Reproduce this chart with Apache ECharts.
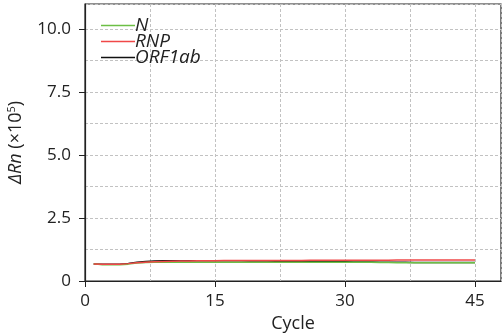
<!DOCTYPE html>
<html><head><meta charset="utf-8">
<script src="https://cdn.jsdelivr.net/npm/echarts@6/dist/echarts.min.js"></script>
<style>html,body{margin:0;padding:0;background:#fff}#c{width:502px;height:334px}</style>
</head><body><div id="c"></div>
<script>
const cycles = Array.from({length:45},(_, i)=>i+1);
const seriesNames = ['N','RNP','ORF1ab'];
const nValues = [0.68,0.65,0.65,0.65,0.67,0.71,0.73,0.74,0.74,0.74,0.74,0.74,0.74,0.74,0.74,0.74,0.74,0.74,0.74,0.74,0.74,0.74,0.74,0.74,0.74,0.74,0.74,0.74,0.74,0.74,0.74,0.74,0.74,0.73,0.73,0.72,0.72,0.72,0.72,0.72,0.72,0.72,0.72,0.72,0.72];
const rnpValues = [0.68,0.67,0.67,0.67,0.69,0.72,0.74,0.76,0.77,0.78,0.79,0.79,0.80,0.80,0.80,0.81,0.81,0.81,0.81,0.81,0.81,0.81,0.81,0.81,0.81,0.82,0.82,0.82,0.82,0.82,0.82,0.82,0.82,0.82,0.82,0.83,0.83,0.83,0.83,0.83,0.83,0.83,0.83,0.83,0.83];
const orfValues = [0.68,0.67,0.67,0.67,0.70,0.74,0.77,0.79,0.80,0.80,0.80,0.80,0.80,0.80,0.80,0.80,0.80,0.80,0.79,0.79,0.79,0.78,0.78,0.78,0.77,0.77,0.77,0.76,0.76,0.76,0.75,0.75,0.75,0.74,0.74,0.74,0.74,0.73,0.73,0.73,0.73,0.73,0.73,0.73,0.73];
const xTicks = [0,15,30,45];
const yTicks = [0,2.5,5,7.5,10];
const colors = {N:'#6cbf45', RNP:'#f04848', ORF1ab:'#111111'};
const toPairs = arr => arr.map((v,i)=>[cycles[i], v]);
const font = '"Open Sans", "Noto Sans", sans-serif';
const gridLine = {color:'#c2c2c2',type:[3,2],width:1};
const chart = echarts.init(document.getElementById('c'), null, {renderer:'canvas'});
chart.setOption({
  animation:false,
  grid:{left:85,right:1,top:4,bottom:53,outerBoundsMode:'none',containLabel:false,show:true,borderColor:'#222',borderWidth:1.2,backgroundColor:'transparent'},
  legend:{orient:'vertical',left:96,top:11,itemWidth:34,itemHeight:1.6,itemGap:-3,icon:'rect',
    data:seriesNames.map(n=>({name:n,itemStyle:{color:colors[n]}})),
    textStyle:{fontFamily:font,fontSize:19,fontStyle:'italic',color:'#222',padding:[0,0,0,-5]}},
  xAxis:{type:'value',min:0,max:48,interval:15,
    name:'Cycle',nameLocation:'middle',nameGap:34,nameTextStyle:{fontFamily:font,fontSize:18,color:'#222'},
    axisLine:{show:true,lineStyle:{color:'#222',width:1.2}},
    axisTick:{show:true,length:6,lineStyle:{color:'#222'}},
    axisLabel:{fontFamily:font,fontSize:17,color:'#222',margin:12,showMaxLabel:false,formatter:v=>(v%15===0?String(v):'')},
    splitLine:{show:true,lineStyle:gridLine},
    minorTick:{show:false,splitNumber:2},
    minorSplitLine:{show:true,lineStyle:gridLine}},
  yAxis:{type:'value',min:0,max:11,interval:2.5,
    name:'{i|ΔRn} {n|(×10}{s|5}{n|)}',nameLocation:'middle',nameGap:60,
    nameTextStyle:{fontFamily:font,fontSize:18,color:'#222',
      rich:{i:{fontFamily:font,fontSize:18,fontStyle:'italic',color:'#222'},
            n:{fontFamily:font,fontSize:18,color:'#222'},
            s:{fontFamily:font,fontSize:11,color:'#222',verticalAlign:'top',padding:[0,0,8,0]}}},
    axisLine:{show:true,lineStyle:{color:'#222',width:1.2}},
    axisTick:{show:true,length:6,lineStyle:{color:'#222'}},
    axisLabel:{fontFamily:font,fontSize:17,color:'#222',margin:14,showMaxLabel:false,formatter:v=>v===0?'0':(Math.abs(v/2.5-Math.round(v/2.5))<1e-9?v.toFixed(1):'')},
    splitLine:{show:true,lineStyle:gridLine},
    minorTick:{show:false,splitNumber:2},
    minorSplitLine:{show:true,lineStyle:gridLine}},
  series:[
    {name:'ORF1ab',type:'line',color:colors.ORF1ab,data:toPairs(orfValues),showSymbol:false,lineStyle:{color:colors.ORF1ab,width:1.5},itemStyle:{color:colors.ORF1ab},z:2},
    {name:'N',type:'line',color:colors.N,data:toPairs(nValues),showSymbol:false,lineStyle:{color:colors.N,width:1.5},itemStyle:{color:colors.N},z:3},
    {name:'RNP',type:'line',color:colors.RNP,data:toPairs(rnpValues),showSymbol:false,lineStyle:{color:colors.RNP,width:1.5},itemStyle:{color:colors.RNP},z:4}
  ]
});
</script></body></html>
